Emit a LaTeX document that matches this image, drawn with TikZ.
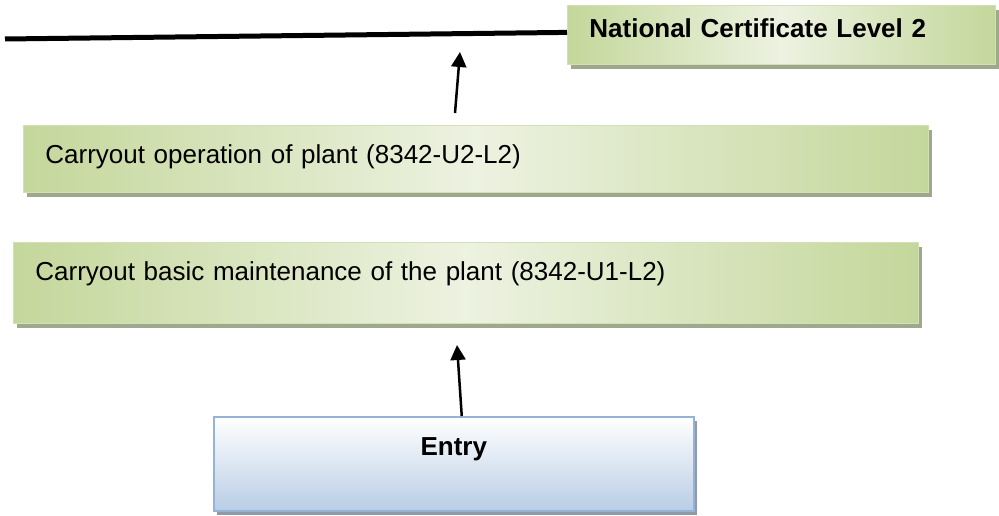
\documentclass[tikz,border=0pt]{standalone}
\usepackage{fontspec}
\setmainfont{Liberation Sans}
\usetikzlibrary{arrows.meta,shadows}
\definecolor{gdark}{HTML}{C4D79B}
\definecolor{glight}{HTML}{EDF2E1}
\definecolor{gedge}{HTML}{D3E0B5}
\definecolor{gshadow}{HTML}{9EA88C}
\definecolor{bedge}{HTML}{95B3D7}
\definecolor{bfill}{HTML}{B9CDE5}
\definecolor{bshadow}{HTML}{8E9AAA}
\tikzset{
  gbox/.style={draw=gedge, line width=0.8pt, left color=gdark, right color=gdark, middle color=glight,
    inner ysep=0pt, inner xsep=22pt, align=left, anchor=north west,
    font=\fontsize{26}{30}\selectfont,
    drop shadow={shadow xshift=4pt, shadow yshift=-5pt, fill=gshadow, opacity=1}},
  ebox/.style={draw=bedge, line width=1.5pt, top color=white, bottom color=bfill,
    inner ysep=0pt, inner xsep=0pt, align=center, anchor=north west,
    font=\fontsize{26}{30}\selectfont\bfseries,
    drop shadow={shadow xshift=3pt, shadow yshift=-4pt, fill=bshadow, opacity=1}},
  conn/.style={line width=2.5pt, -{Triangle[length=15pt,width=15pt]}}
}
\begin{document}
\begin{tikzpicture}[x=1pt,y=-1pt]
\useasboundingbox (0,0) rectangle (999,516);
\node[gbox, text width=384pt, text height=32pt, text depth=27pt, font=\fontsize{26}{30}\selectfont\bfseries] (nat) at (567,5) {National Certificate Level 2};
\node[gbox, text width=861pt, text height=38pt, text depth=29pt] (op) at (23,125) {Carryout operation of plant (8342-U2-L2)};
\node[gbox, text width=861pt, text height=38pt, text depth=43pt] (mt) at (13,242) {Carryout basic maintenance of the plant (8342-U1-L2)};
\node[ebox, text width=480pt, text height=39pt, text depth=55pt] (entry) at (213,416) {Entry};
\coordinate (lineL) at (5,39);
\draw[line width=5pt] (lineL) -- ([yshift=2.5pt]nat.west);
\coordinate (a1s) at (455,113);
\coordinate (a1e) at (460,52);
\draw[conn] (a1s) -- (a1e);
\coordinate (a2e) at (457,345);
\draw[conn] ([xshift=8pt]entry.north) -- (a2e);
\end{tikzpicture}
\end{document}
